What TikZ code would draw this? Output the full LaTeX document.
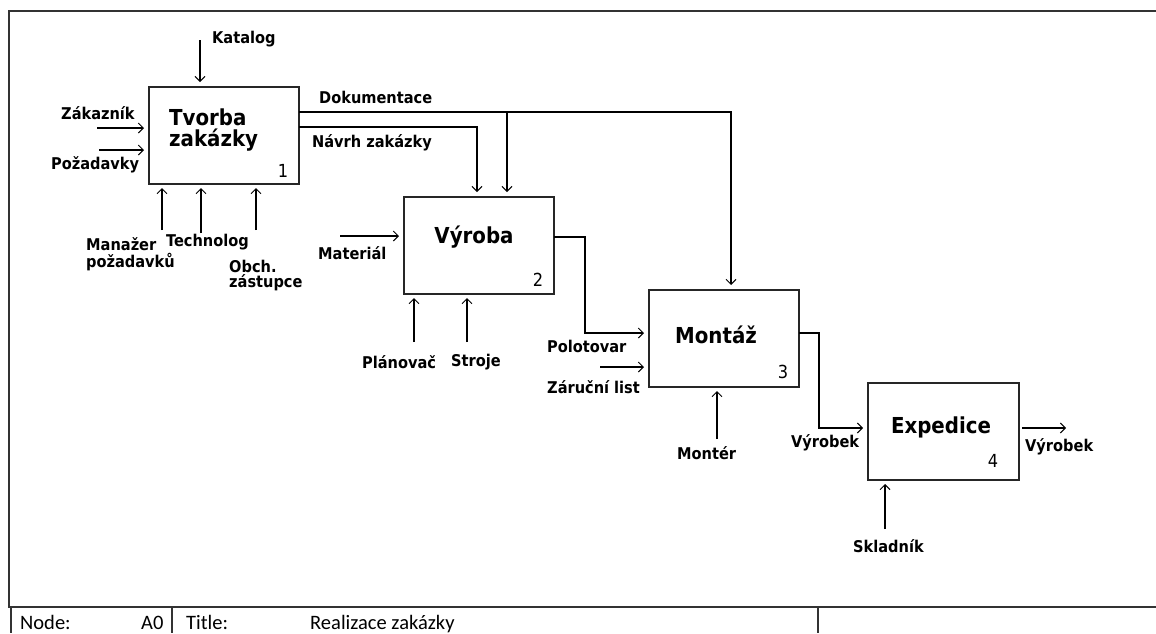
\documentclass[tikz,border=0pt]{standalone}
\usepackage{fontspec}
\setmainfont{DejaVu Sans Condensed}
\newfontfamily\tbfont{Carlito}
\usetikzlibrary{arrows.meta}
\begin{document}
\begin{tikzpicture}[x=1pt,y=-1pt,
  frame/.style={draw=black!80,line width=1.3pt},
  box/.style={draw=black!85,line width=1.2pt,minimum height=97pt,inner sep=0pt,outer sep=0pt},
  arr/.style={line width=1.1pt,-{Straight Barb[length=5pt,width=10pt,line width=1pt]},shorten >=5pt},
  lbl/.style={font=\bfseries\fontsize{16.2}{18}\selectfont,anchor=west,inner sep=0pt},
  ttl/.style={font=\bfseries\fontsize{22}{24}\selectfont,inner sep=0pt},
  num/.style={font=\fontsize{18}{20}\selectfont,inner sep=0pt},
  tb/.style={font=\tbfont\fontsize{20.5}{22}\selectfont,anchor=base west,inner sep=0pt}]
\useasboundingbox (0,0) rectangle (1156,633);
% sheet frame and title row
\draw[frame] (1156,11) -- (9,11) -- (9,607) -- (1156,607);
\draw[frame] (11,607) -- (11,633);
\draw[frame] (172,607) -- (172,633);
\draw[frame] (818,607) -- (818,633);
\node[tb] (tnode) at (20,629) {Node:};
\node[tb] (tnum) at (141,629) {A0};
\node[tb] (ttitle) at (186,629) {Title:};
\node[tb] (tname) at (310,629) {Realizace zakázky};

% activity boxes
\node[box,minimum width=150pt] (b1) at (224,135.5) {};
\node[box,minimum width=150pt] (b2) at (479,245.5) {};
\node[box,minimum width=150pt] (b3) at (724,338.5) {};
\node[box,minimum width=151pt] (b4) at (943.5,431.5) {};

\node[ttl,anchor=west] (t1a) at (169,117) {Tvorba};
\node[ttl,anchor=west] (t1b) at (169,140) {zakázky};
\node[ttl] (t2) at (474,237) {Výroba};
\node[ttl] (t3) at (716,335) {Montáž};
\node[ttl] (t4) at (941,427) {Expedice};
\node[num] (n1) at (283,171) {1};
\node[num] (n2) at (538,280) {2};
\node[num] (n3) at (783,372) {3};
\node[num] (n4) at (993,461) {4};

% free ends of the connectors
\coordinate (katS) at (200,40);
\coordinate (zakS) at (97,128);
\coordinate (pozS) at (99,150);
\coordinate (manS) at (162,230);
\coordinate (techS) at (201,233);
\coordinate (obchS) at (256,230);
\coordinate (dokT) at (731,112);
\coordinate (dokB) at (507,112);
\coordinate (navT) at (477,127);
\coordinate (matS) at (340,236);
\coordinate (planS) at (414,342);
\coordinate (strS) at (467,342);
\coordinate (polT) at (585,237);
\coordinate (polK) at (585,333);
\coordinate (zarS) at (600,367);
\coordinate (monS) at (717,439);
\coordinate (vyrT) at (819,333);
\coordinate (vyrK) at (819,428);
\coordinate (outE) at (1066,428);
\coordinate (sklS) at (885,529);

% box 1
\draw[arr] (katS) -- (katS |- b1.north);
\draw[arr] (zakS) -- (zakS -| b1.west);
\draw[arr] (pozS) -- (pozS -| b1.west);
\draw[arr,shorten >=4pt] (manS) -- (manS |- b1.south);
\draw[arr,shorten >=4pt] (techS) -- (techS |- b1.south);
\draw[arr,shorten >=4pt] (obchS) -- (obchS |- b1.south);
\draw[arr] (b1.east |- dokT) -- (dokT) -- (dokT |- b3.north);
\draw[arr] (dokB) -- (dokB |- b2.north);
\draw[arr] (b1.east |- navT) -- (navT) -- (navT |- b2.north);

% box 2
\draw[arr] (matS) -- (matS -| b2.west);
\draw[arr,shorten >=4pt] (planS) -- (planS |- b2.south);
\draw[arr,shorten >=4pt] (strS) -- (strS |- b2.south);
\draw[arr] (b2.east |- polT) -- (polT) -- (polK) -- (polK -| b3.west);

% box 3
\draw[arr] (zarS) -- (zarS -| b3.west);
\draw[arr,shorten >=4pt] (monS) -- (monS |- b3.south);
\draw[arr] (b3.east |- vyrT) -- (vyrT) -- (vyrK) -- (vyrK -| b4.west);

% box 4
\draw[arr,shorten >=0pt,shorten <=3pt] (b4.east |- outE) -- (outE);
\draw[arr,shorten >=4pt] (sklS) -- (sklS |- b4.south);

% arrow labels
\node[lbl] (lkat) at (212,39) {Katalog};
\node[lbl] (lzak) at (61,113) {Zákazník};
\node[lbl] (lpoz) at (51,165) {Požadavky};
\node[lbl] (lman) at (86,244) {Manažer};
\node[lbl] (lmanb) at (86,262) {požadavků};
\node[lbl] (ltech) at (166,242) {Technolog};
\node[lbl] (lobch) at (229,266) {Obch.};
\node[lbl] (lobchb) at (229,283) {zástupce};
\node[lbl] (ldok) at (319,97) {Dokumentace};
\node[lbl] (lnav) at (312,143) {Návrh zakázky};
\node[lbl] (lmat) at (318,253) {Materiál};
\node[lbl] (lplan) at (362,362) {Plánovač};
\node[lbl] (lstr) at (451,362) {Stroje};
\node[lbl] (lpol) at (547,346) {Polotovar};
\node[lbl] (lzar) at (547,387) {Záruční list};
\node[lbl] (lmon) at (677,453) {Montér};
\node[lbl] (lvyr) at (791,443) {Výrobek};
\node[lbl] (lout) at (1025,447) {Výrobek};
\node[lbl] (lskl) at (853,546) {Skladník};
\end{tikzpicture}
\end{document}
